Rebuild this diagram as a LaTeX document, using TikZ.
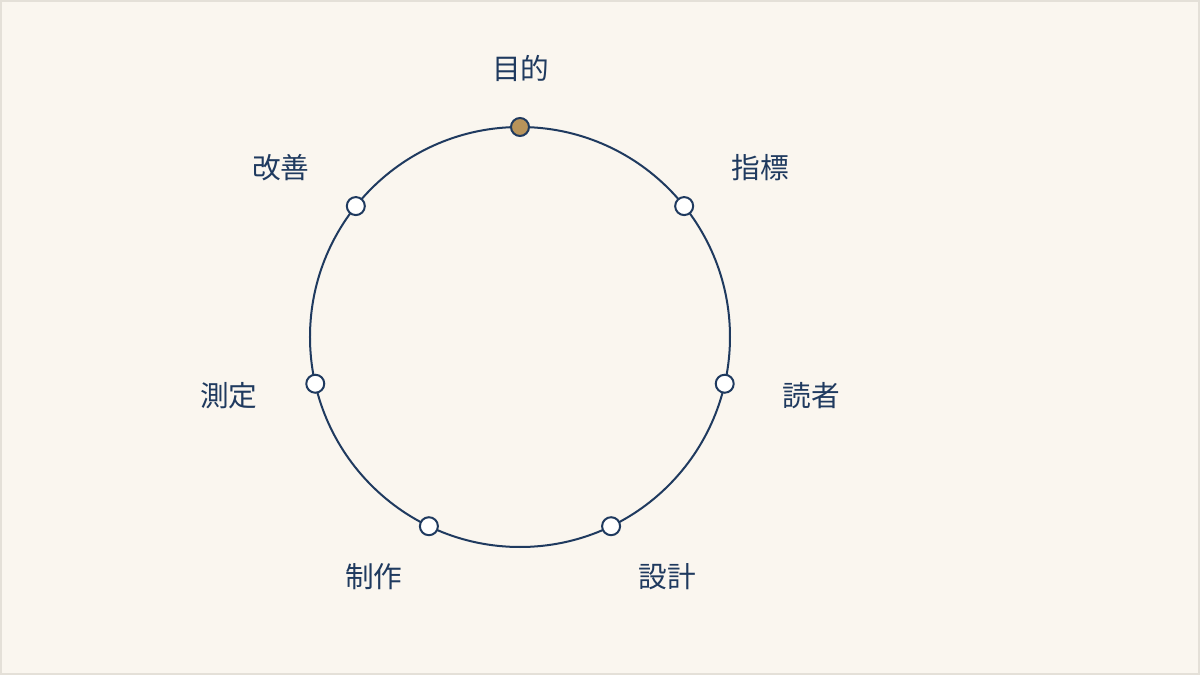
\documentclass[tikz,border=0pt]{standalone}
\usepackage{fontspec}
\setmainfont{Noto Sans CJK JP}
\definecolor{fond}{HTML}{FAF6EF}
\definecolor{bord}{HTML}{E4E0D8}
\definecolor{encre}{HTML}{1F3A5F}
\definecolor{ocre}{HTML}{B8935A}
\begin{document}
\begin{tikzpicture}[x=0.75pt,y=0.75pt]
% Styles
\tikzstyle{cadre}=[draw=bord,fill=fond,line width=1.5pt]
\tikzstyle{cercle}=[draw=encre,line width=1.5pt]
\tikzstyle{point}=[circle,draw=encre,fill=white,line width=1.5pt,minimum size=13.5pt,inner sep=0pt]
\tikzstyle{actif}=[fill=ocre]
\tikzstyle{etiquette}=[text=encre,font=\fontsize{21.5pt}{25pt}\selectfont,inner sep=0pt]
% Dimensions
\def\R{210}
% Fond
\draw[cadre] (-519,336) rectangle (679,-337);
\useasboundingbox (-520,337) rectangle (680,-338);
% Cycle
\draw[cercle] (0,0) circle (\R);
\node[point,actif] (objectif) at (90:\R) {};
\node[point] (indicateur) at (38.57:\R) {};
\node[point] (lecteur) at (-12.86:\R) {};
\node[point] (conception) at (-64.29:\R) {};
\node[point] (production) at (-115.71:\R) {};
\node[point] (mesure) at (-167.14:\R) {};
\node[point] (amelioration) at (141.43:\R) {};
% Etiquettes
\node[etiquette] (l-objectif) at (1,269) {目的};
\node[etiquette] (l-indicateur) at (240,169) {指標};
\node[etiquette] (l-lecteur) at (291,-59) {読者};
\node[etiquette] (l-conception) at (147,-240) {設計};
\node[etiquette] (l-production) at (-146,-240) {制作};
\node[etiquette] (l-mesure) at (-291,-59) {測定};
\node[etiquette] (l-amelioration) at (-239,169) {改善};
\end{tikzpicture}
\end{document}
